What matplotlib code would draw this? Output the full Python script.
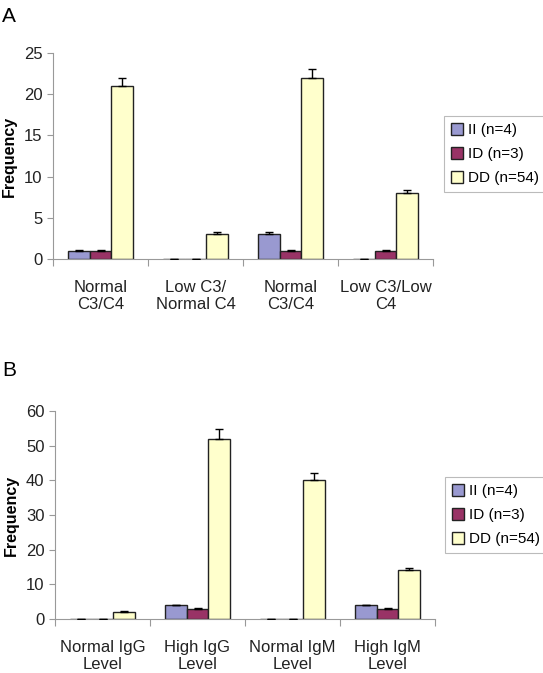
import matplotlib
matplotlib.use("Agg")
import matplotlib.pyplot as plt
import numpy as np

plt.rcParams['font.family'] = ['Liberation Sans', 'DejaVu Sans']

series_names = ["II (n=4)", "ID (n=3)", "DD (n=54)"]
colors = ["#9999d0", "#993366", "#ffffcc"]

cats_a = ["Normal\nC3/C4", "Low C3/\nNormal C4", "Normal\nC3/C4", "Low C3/Low\nC4"]
ii_a = [1, 0, 3, 0]
id_a = [1, 0, 1, 1]
dd_a = [21, 3, 22, 8]
ii_a_err = [0.1, 0, 0.25, 0]
id_a_err = [0.1, 0, 0.1, 0.1]
dd_a_err = [1.0, 0.3, 1.0, 0.35]

cats_b = ["Normal IgG\nLevel", "High IgG\nLevel", "Normal IgM\nLevel", "High IgM\nLevel"]
ii_b = [0, 4, 0, 4]
id_b = [0, 3, 0, 3]
dd_b = [2, 52, 40, 14]
ii_b_err = [0, 0.15, 0, 0.15]
id_b_err = [0, 0.1, 0, 0.1]
dd_b_err = [0.4, 2.7, 2.2, 0.8]

W, H = 543, 673
fig = plt.figure(figsize=(W/100, H/100), dpi=100)

def draw(ax_rect, cats, vals, errs, ymax, ystep, leg_rect):
    l, t, r, b = ax_rect
    ax = fig.add_axes([l/W, 1-b/H, (r-l)/W, (b-t)/H])
    x = np.arange(len(cats))
    bw = 0.225
    for i, (v, e) in enumerate(zip(vals, errs)):
        pos = x + (i-1)*bw
        ax.bar(pos, v, bw, color=colors[i], edgecolor="#222222", linewidth=1.0,
               label=series_names[i], zorder=2)
        ax.errorbar(pos, v, yerr=[np.zeros(len(e)), e], fmt='none', ecolor='black',
                    elinewidth=1.0, capsize=2.8, capthick=1.0, zorder=3)
    ax.set_xlim(-0.5, len(cats)-0.5)
    ax.set_ylim(0, ymax)
    ax.set_yticks(np.arange(0, ymax+1, ystep))
    ax.set_xticks(np.arange(-0.5, len(cats)), minor=False)
    ax.set_xticklabels([])
    ax.set_xticks(x, minor=True)
    ax.set_xticklabels(cats, minor=True, fontsize=12, color="#222222", linespacing=1.15)
    ax.tick_params(axis='x', which='minor', length=0, pad=15)
    ax.tick_params(axis='x', which='major', length=5, color="#999999", direction='out')
    ax.tick_params(axis='y', length=4, color="#999999", labelsize=12, labelcolor="#222222")
    for s in ['top', 'right']:
        ax.spines[s].set_visible(False)
    for s in ['left', 'bottom']:
        ax.spines[s].set_color("#999999")
    ax.set_ylabel("Frequency", fontsize=11.5, fontweight='bold', labelpad=5)
    ll, lt, lr, lb = leg_rect
    leg = ax.legend(loc='upper left', bbox_to_anchor=((ll-l)/(r-l), 1-(lt-t)/(b-t)),
                    bbox_transform=ax.transAxes, fontsize=11, frameon=True,
                    fancybox=False, edgecolor="#aaaaaa", handlelength=0.8,
                    handleheight=0.8, handletextpad=0.3, borderpad=0.45,
                    labelspacing=0.65, borderaxespad=0)
    leg.get_frame().set_linewidth(0.8)
    return ax

draw((53, 53, 433, 259), cats_a, [ii_a, id_a, dd_a], [ii_a_err, id_a_err, dd_a_err],
     25, 5, (444, 116, 539, 196))
draw((55, 411, 435, 619), cats_b, [ii_b, id_b, dd_b], [ii_b_err, id_b_err, dd_b_err],
     60, 10, (445, 477, 540, 550))

fig.text(2/W, 1-16/H, "A", fontsize=15, va='center', ha='left')
fig.text(2/W, 1-370/H, "B", fontsize=15, va='center', ha='left')

fig.savefig("out.png", dpi=100)
